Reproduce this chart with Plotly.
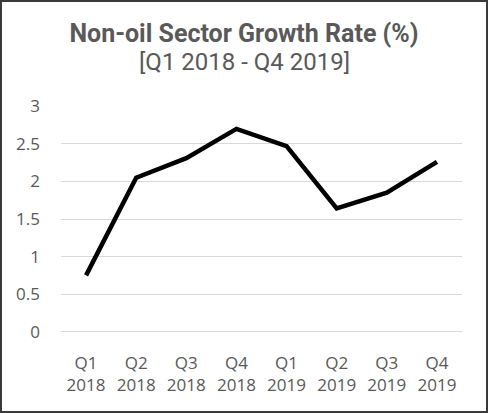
import plotly.graph_objects as go

quarters = ["Q1<br>2018", "Q2<br>2018", "Q3<br>2018", "Q4<br>2018",
            "Q1<br>2019", "Q2<br>2019", "Q3<br>2019", "Q4<br>2019"]
growth = [0.75, 2.05, 2.31, 2.70, 2.47, 1.64, 1.85, 2.26]

W, H = 488, 413
L, R, T, B = 61, 26, 106, 81
pw, ph = W - L - R, H - T - B

fig = go.Figure()
fig.add_trace(go.Scatter(
    x=quarters, y=growth, mode="lines",
    line=dict(color="black", width=4.5),
    hoverinfo="skip",
))

# outer border round the whole chart
fig.add_shape(
    type="rect", xref="paper", yref="paper",
    x0=-(L - 1) / pw, x1=1 + (R - 1) / pw,
    y0=-(B - 1) / ph, y1=1 + (T - 1) / ph,
    line=dict(color="#3a3a3a", width=2), layer="above",
)

# second title line
fig.add_annotation(
    text="[Q1 2018 - Q4 2019]", showarrow=False,
    xref="paper", yref="paper", x=0.5 - (L - R) / 2 / pw, xanchor="center",
    y=1 + (T - 62) / ph, yanchor="middle",
    font=dict(family="Roboto", size=24, color="#595959"),
)

fig.update_layout(
    width=W, height=H,
    margin=dict(l=L, r=R, t=T, b=B, pad=0),
    paper_bgcolor="white", plot_bgcolor="white",
    showlegend=False,
    font=dict(family="Open Sans", size=17, color="#595959"),
    title=dict(
        text="<b>Non-oil Sector Growth Rate (%)</b>",
        x=0.5, xref="container", xanchor="center",
        y=1 - 33 / H, yref="container", yanchor="middle",
        font=dict(family="Roboto", size=25, color="#595959"),
    ),
    xaxis=dict(range=[-0.5, 7.5], showgrid=False, showline=False,
               zeroline=False, ticks="", ticklabelstandoff=19,
               tickfont=dict(size=17)),
    yaxis=dict(range=[-0.004, 3.004], dtick=0.5, showgrid=True,
               gridcolor="#d9d9d9", gridwidth=1, zeroline=True,
               zerolinecolor="#d9d9d9", zerolinewidth=1, showline=False,
               ticks="", ticklabelstandoff=20, tickfont=dict(size=17)),
)

fig.write_html("out.html", config={"displayModeBar": False},
               post_script="document.body.style.margin='0';")
